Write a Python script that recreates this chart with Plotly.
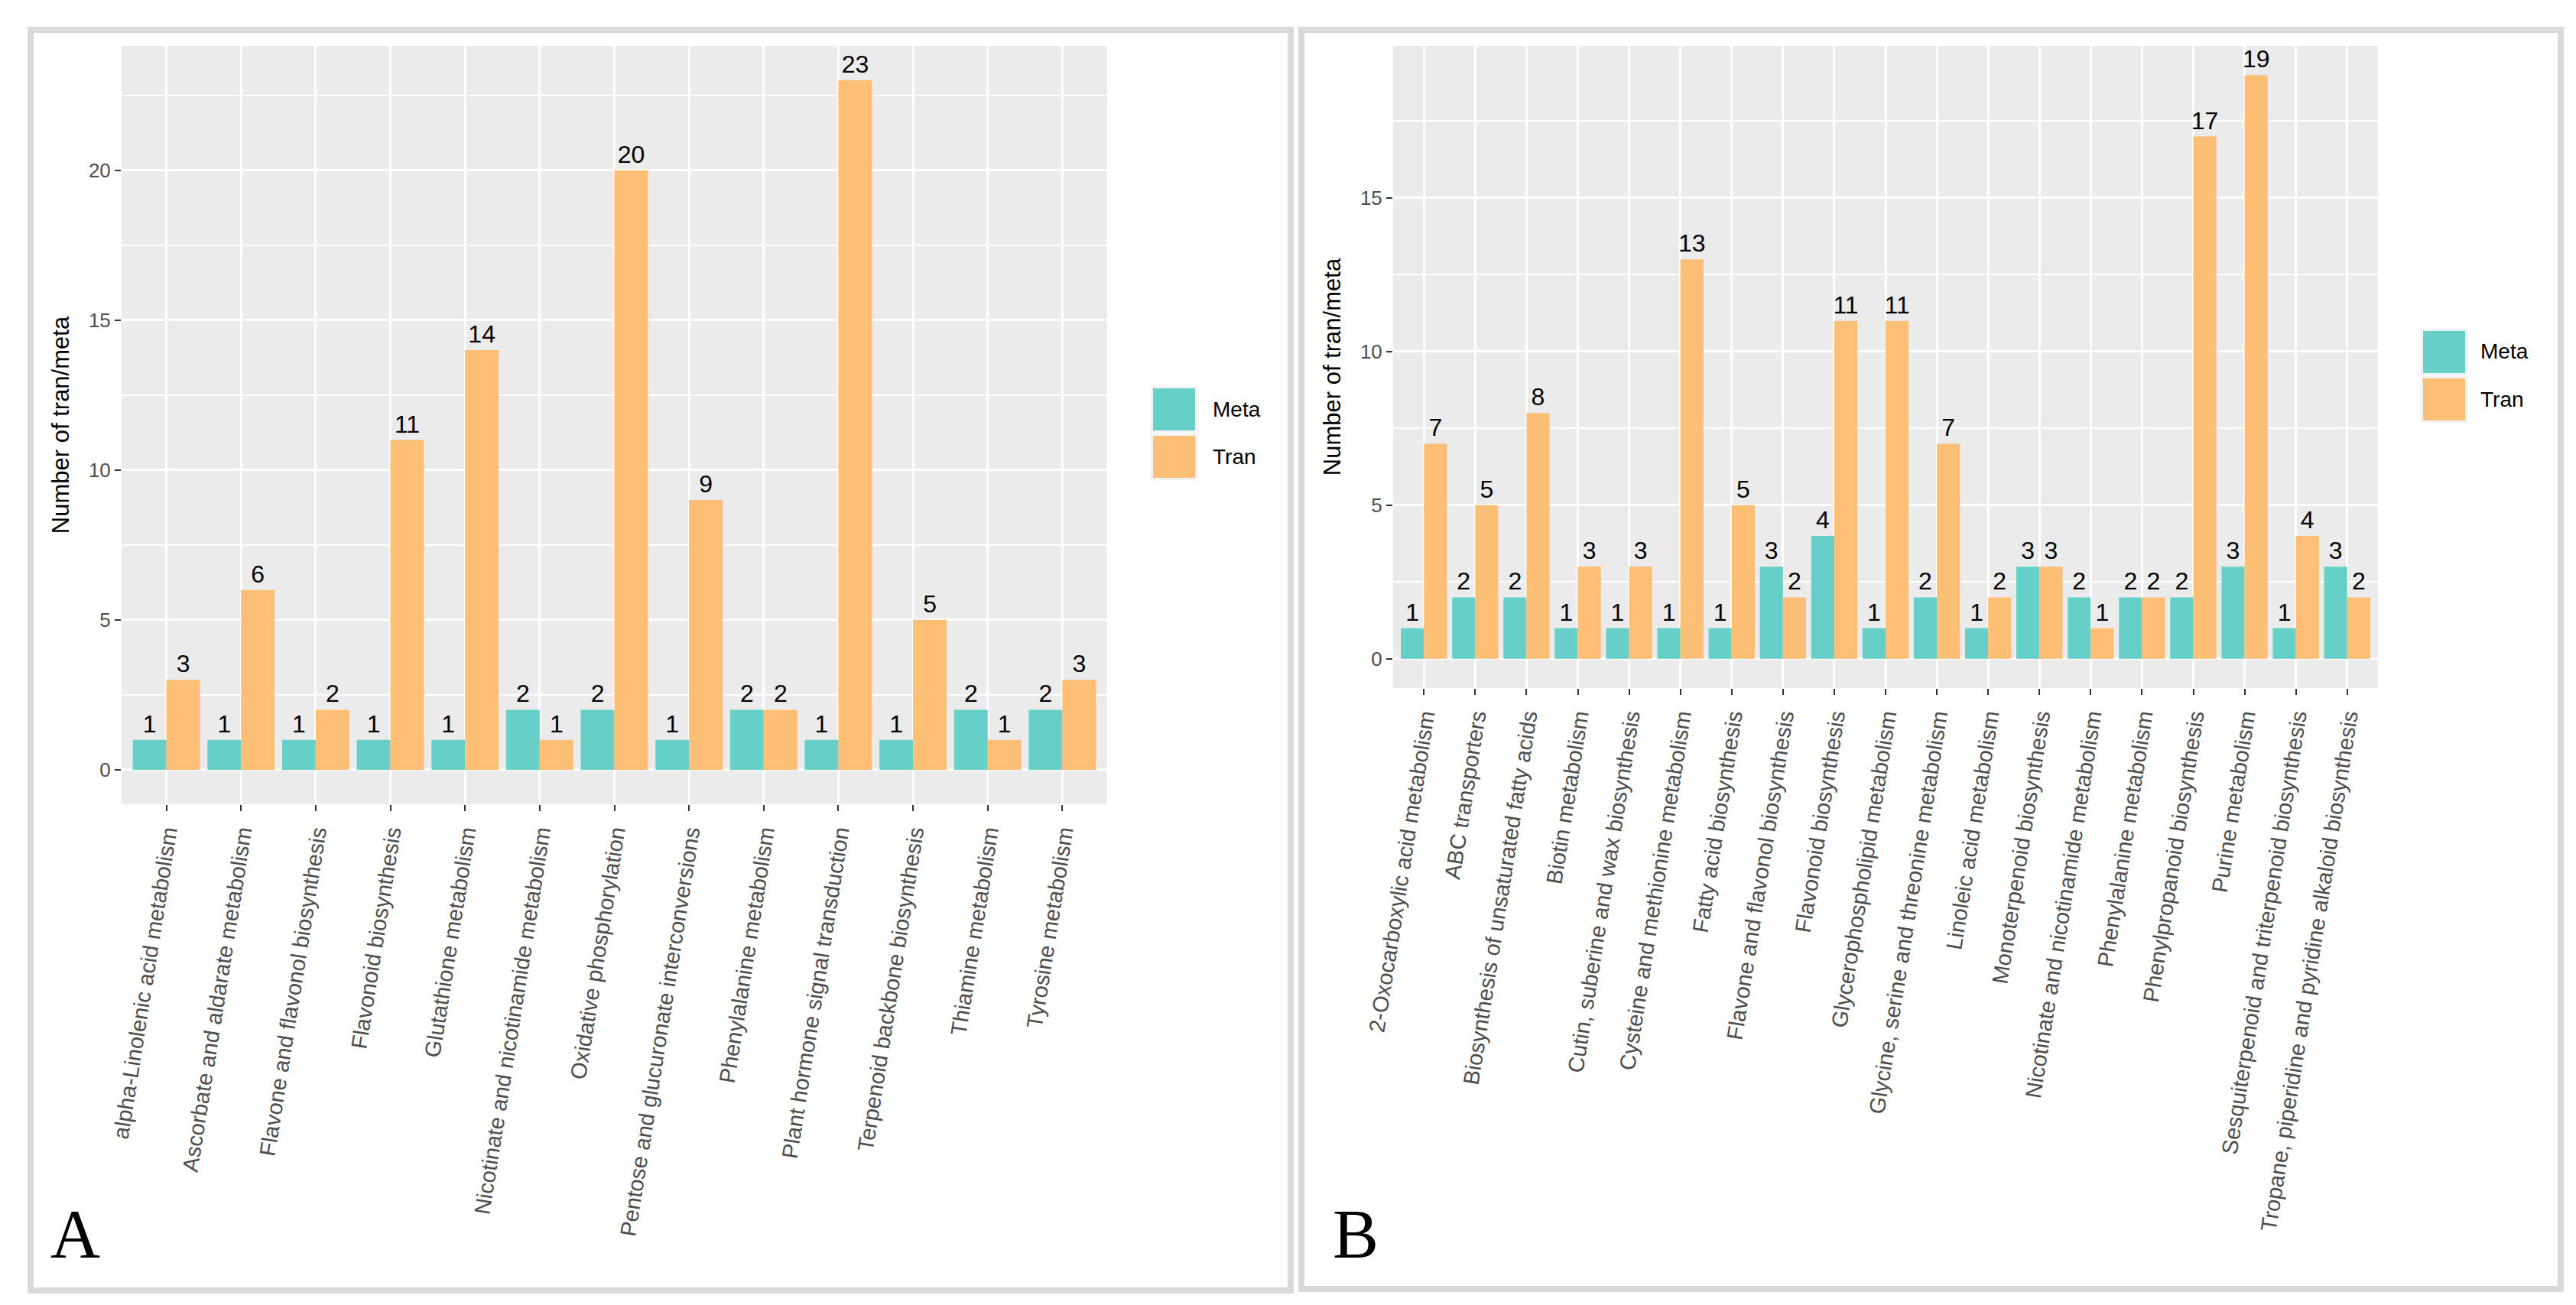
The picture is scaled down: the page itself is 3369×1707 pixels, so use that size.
import plotly.graph_objects as go

# ---------------- data ----------------
cats_a = [
    "alpha-Linolenic acid metabolism",
    "Ascorbate and aldarate metabolism",
    "Flavone and flavonol biosynthesis",
    "Flavonoid biosynthesis",
    "Glutathione metabolism",
    "Nicotinate and nicotinamide metabolism",
    "Oxidative phosphorylation",
    "Pentose and glucuronate interconversions",
    "Phenylalanine metabolism",
    "Plant hormone signal transduction",
    "Terpenoid backbone biosynthesis",
    "Thiamine metabolism",
    "Tyrosine metabolism",
]
meta_a = [1, 1, 1, 1, 1, 2, 2, 1, 2, 1, 1, 2, 2]
tran_a = [3, 6, 2, 11, 14, 1, 20, 9, 2, 23, 5, 1, 3]

cats_b = [
    "2-Oxocarboxylic acid metabolism",
    "ABC transporters",
    "Biosynthesis of unsaturated fatty acids",
    "Biotin metabolism",
    "Cutin, suberine and wax biosynthesis",
    "Cysteine and methionine metabolism",
    "Fatty acid biosynthesis",
    "Flavone and flavonol biosynthesis",
    "Flavonoid biosynthesis",
    "Glycerophospholipid metabolism",
    "Glycine, serine and threonine metabolism",
    "Linoleic acid metabolism",
    "Monoterpenoid biosynthesis",
    "Nicotinate and nicotinamide metabolism",
    "Phenylalanine metabolism",
    "Phenylpropanoid biosynthesis",
    "Purine metabolism",
    "Sesquiterpenoid and triterpenoid biosynthesis",
    "Tropane, piperidine and pyridine alkaloid biosynthesis",
]
meta_b = [1, 2, 2, 1, 1, 1, 1, 3, 4, 1, 2, 1, 3, 2, 2, 2, 3, 1, 3]
tran_b = [7, 5, 8, 3, 3, 13, 5, 2, 11, 11, 7, 2, 3, 1, 2, 17, 19, 4, 2]

series_names = ["Meta", "Tran"]
panel_labels = ["A", "B"]
y_title = "Number of tran/meta"

# ---------------- styling ----------------
W, H = 3369, 1707
def px(x):
    return x / W
def py(y):
    return 1 - y / H

META_C = "#66D0C8"
TRAN_C = "#FDBE75"
FONT = "Liberation Sans, Arial, sans-serif"

fig = go.Figure()

for cats, meta, tran, xa, ya in [
    (cats_a, meta_a, tran_a, "x", "y"),
    (cats_b, meta_b, tran_b, "x2", "y2"),
]:
    for name, vals, col in [(series_names[0], meta, META_C), (series_names[1], tran, TRAN_C)]:
        fig.add_trace(go.Bar(
            x=cats, y=vals, name=name,
            marker=dict(color=col, line=dict(width=0)),
            text=vals, textposition="outside", textangle=0,
            textfont=dict(size=32, color="black", family=FONT),
            constraintext="none", cliponaxis=False,
            xaxis=xa, yaxis=ya, showlegend=False,
        ))

xcommon = dict(
    type="category", showgrid=True, gridcolor="white", gridwidth=3,
    ticks="outside", ticklen=8, tickwidth=2, tickcolor="#333333",
    tickangle=-81, tickfont=dict(size=29, color="#4d4d4d", family=FONT),
    showline=False, zeroline=False, fixedrange=True, automargin=False,
)
ycommon = dict(
    showgrid=True, gridcolor="white", gridwidth=3, dtick=5, tick0=0,
    ticks="outside", ticklen=8, tickwidth=2, tickcolor="#333333",
    tickfont=dict(size=26, color="#4d4d4d", family=FONT),
    showline=False, zeroline=False, automargin=False,
    minor=dict(tick0=2.5, dtick=5, showgrid=True, gridcolor="white", gridwidth=1.6, ticks=""),
    title=dict(text=y_title, font=dict(size=31, color="black", family=FONT), standoff=16),
)

fig.update_layout(
    width=W, height=H,
    margin=dict(l=0, r=0, t=0, b=0),
    paper_bgcolor="white", plot_bgcolor="#EBEBEB",
    barmode="group", bargap=0.1, bargroupgap=0,
    xaxis=dict(xcommon, domain=[px(151), px(1440)], range=[-0.6, len(cats_a) - 0.4], anchor="y"),
    yaxis=dict(ycommon, domain=[py(1044), py(52)], range=[-1.15, 24.15], anchor="x"),
    xaxis2=dict(xcommon, domain=[px(1814), px(3102)], range=[-0.6, len(cats_b) - 0.4], anchor="y2"),
    yaxis2=dict(ycommon, domain=[py(892), py(52)], range=[-0.95, 19.95], anchor="x2"),
    showlegend=False,
)

shapes = []
annotations = []

# panel borders
for x0, x1, y0, y1 in [(32, 1680, 31, 1680), (1694, 3341, 31, 1678)]:
    shapes.append(dict(type="rect", xref="paper", yref="paper",
                       x0=px(x0), x1=px(x1), y0=py(y1), y1=py(y0),
                       line=dict(color="#D9D9D9", width=8), fillcolor="rgba(0,0,0,0)", layer="below"))

# legends (one per panel)
for kx, ky, tx in [(1497, 497, 1576), (3158, 422, 3234)]:
    for i, (name, col) in enumerate([(series_names[0], META_C), (series_names[1], TRAN_C)]):
        top = ky + i * 62
        shapes.append(dict(type="rect", xref="paper", yref="paper",
                           x0=px(kx), x1=px(kx + 61), y0=py(top + 61), y1=py(top),
                           line=dict(width=0), fillcolor="#F2F2F2"))
        shapes.append(dict(type="rect", xref="paper", yref="paper",
                           x0=px(kx + 3), x1=px(kx + 58), y0=py(top + 58), y1=py(top + 3),
                           line=dict(width=0), fillcolor=col))
        annotations.append(dict(xref="paper", yref="paper", x=px(tx), y=py(top + 30),
                                xanchor="left", yanchor="middle", showarrow=False,
                                text=name, font=dict(size=28, color="black", family=FONT)))

# panel letters
for lab, lx in zip(panel_labels, [56, 1733]):
    annotations.append(dict(xref="paper", yref="paper", x=px(lx), y=py(1606),
                            xanchor="left", yanchor="middle", showarrow=False,
                            text=lab, font=dict(size=90, color="black",
                                                family="Liberation Serif, Times New Roman, serif")))

fig.update_layout(shapes=shapes, annotations=annotations)

fig.write_html("out.html")
